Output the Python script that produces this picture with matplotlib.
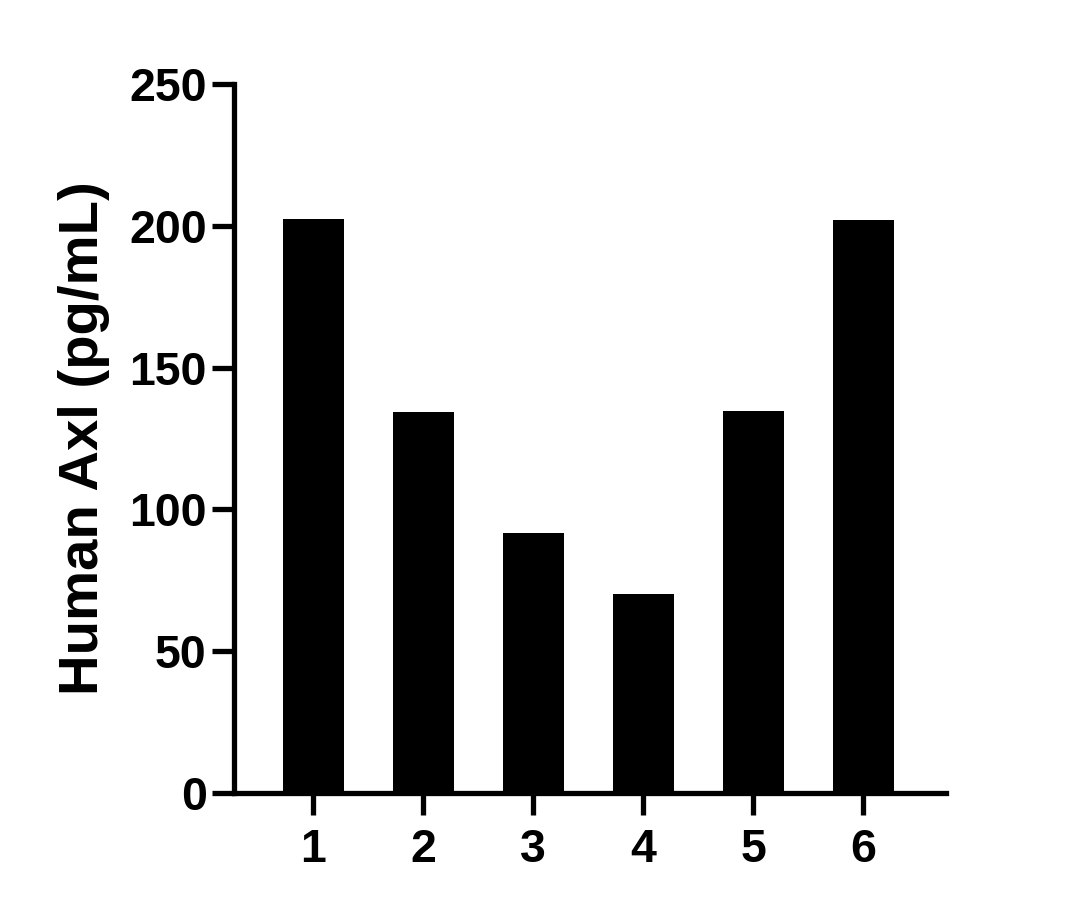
import matplotlib
matplotlib.use("Agg")
import matplotlib.pyplot as plt

# data
groups = ["1", "2", "3", "4", "5", "6"]
axl_pg_ml = [202.4, 134.3, 91.7, 70.2, 134.7, 202.0]

plt.rcParams["font.family"] = ["Liberation Sans", "DejaVu Sans"]
plt.rcParams["font.weight"] = "bold"

fig = plt.figure(figsize=(10.81, 9.09), dpi=100)
ax = fig.add_axes([0.2169, 0.1276, 0.6582, 0.78])

x = list(range(1, len(groups) + 1))
ax.bar(x, axl_pg_ml, width=0.555, color="black", edgecolor="none", zorder=1)

ax.set_xlim(0.281, 6.755)
ax.set_ylim(0, 250)
ax.set_yticks([0, 50, 100, 150, 200, 250])
ax.set_xticks(x)
ax.set_xticklabels(groups)

for side in ["top", "right"]:
    ax.spines[side].set_visible(False)
for side in ["left", "bottom"]:
    ax.spines[side].set_linewidth(3.8)
    ax.spines[side].set_zorder(3)

ax.tick_params(axis="both", direction="out", length=16, width=3.8,
               labelsize=33.5, colors="black")
ax.tick_params(axis="y", pad=4)
ax.tick_params(axis="x", pad=9)

ax.set_ylabel("Human Axl (pg/mL)", fontsize=40.5, fontweight="bold", labelpad=14)

fig.savefig("out.png", dpi=100)
